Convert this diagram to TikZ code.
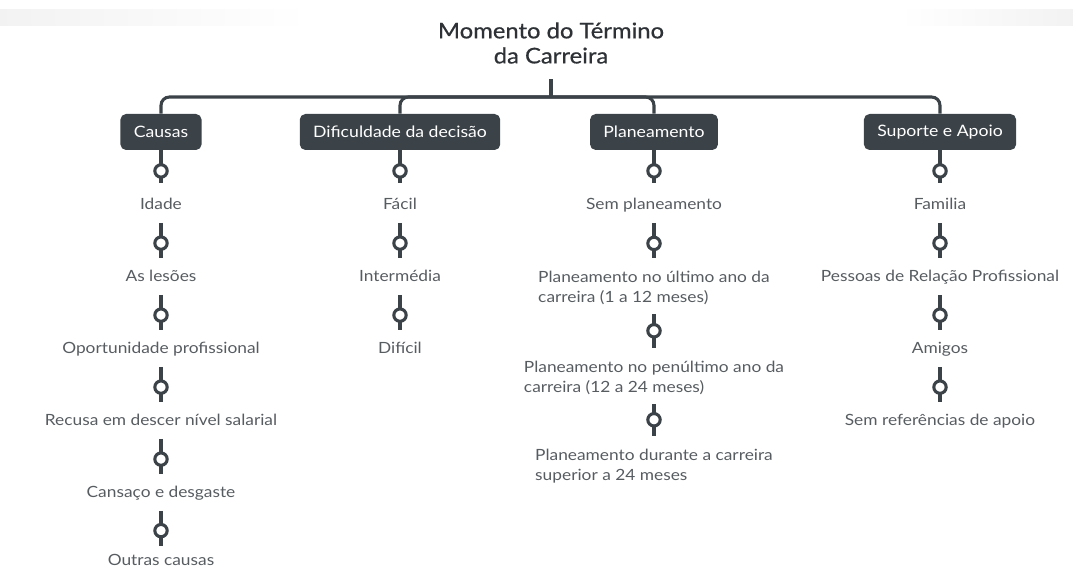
\documentclass[tikz,border=0pt]{standalone}
\usepackage{fontspec}
\setmainfont{Lato}[FakeStretch=1.12]
\newfontfamily\titlefont{Lato}[FakeStretch=1.1,FakeBold=0.6]
\definecolor{ink}{HTML}{3B4248}
\definecolor{txt}{HTML}{575C61}
\definecolor{titletxt}{HTML}{2E3236}

\begin{document}
\begin{tikzpicture}[x=0.025cm,y=-0.025cm,
  head/.style={fill=ink,text=white,rounded corners=4pt,minimum height=25.6pt,inner xsep=9.5pt,inner ysep=0pt,font=\fontsize{11.2}{13}\selectfont},
  item/.style={text=txt,inner sep=0pt,text height=8pt,text depth=2.5pt,font=\fontsize{11}{13}\selectfont},
  itemlong/.style={text=txt,inner sep=0pt,align=left,font=\fontsize{11}{14.2}\selectfont},
  bus/.style={draw=ink,line width=2.2pt,rounded corners=6pt},
  link/.style={draw=ink,line width=2.3pt,shorten <=6.5pt,shorten >=9pt},
  stem/.style={draw=ink,line width=2.3pt,shorten >=11pt},
  joint/.style={circle,draw=ink,fill=white,line width=2.2pt,inner sep=0pt,minimum size=8.8pt}]
  \useasboundingbox (0,0) rectangle (1073,571);
  \shade[left color=black!5,right color=white] (0,10) rectangle (310,26);
  \shade[left color=white,right color=black!5] (900,10) rectangle (1073,26);

  \node[align=center,inner sep=0pt,text=titletxt,font=\titlefont\fontsize{15.4}{17.8}\selectfont] (title) at (551,43) {Momento do Término\\da Carreira};
  \coordinate (hub) at (551,97);

  \node[head] (causas) at (161,132) {Causas};
  \node[head] (dific) at (400,132) {Dificuldade da decisão};
  \node[head] (plan) at (654,132) {Planeamento};
  \node[head] (suporte) at (940,132) {Suporte e Apoio};

  \node[item] (c1) at (161,206) {Idade};
  \node[item] (c2) at (161,278) {As lesões};
  \node[item] (c3) at (161,350) {Oportunidade profissional};
  \node[item] (c4) at (161,422) {Recusa em descer nível salarial};
  \node[item] (c5) at (161,494) {Cansaço e desgaste};
  \node[item] (c6) at (161,562) {Outras causas};

  \node[item] (d1) at (400,206) {Fácil};
  \node[item] (d2) at (400,278) {Intermédia};
  \node[item] (d3) at (400,350) {Difícil};

  \node[item] (p1) at (654,206) {Sem planeamento};
  \node[itemlong] (p2) at (654,288) {Planeamento no último ano da\\carreira (1 a 12 meses)};
  \node[itemlong] (p3) at (654,378) {Planeamento no penúltimo ano da\\carreira (12 a 24 meses)};
  \node[itemlong] (p4) at (654,466) {Planeamento durante a carreira\\superior a 24 meses};

  \node[item] (s1) at (940,206) {Familia};
  \node[item] (s2) at (940,278) {Pessoas de Relação Profissional};
  \node[item] (s3) at (940,350) {Amigos};
  \node[item] (s4) at (940,422) {Sem referências de apoio};

  % tree from the title down to the four heads
  \draw[bus,shorten <=11pt] (title) -- (hub);
  \draw[bus] (causas.north) |- (hub) -| (suporte.north);
  \draw[bus] (dific.north) |- (hub);
  \draw[bus] (plan.north) |- (hub);

  \draw[stem] (causas) -- node[joint,pos=0.43]{} (c1);
  \draw[link] (c1) -- node[joint,pos=0.52]{} (c2);
  \draw[link] (c2) -- node[joint,pos=0.52]{} (c3);
  \draw[link] (c3) -- node[joint,pos=0.52]{} (c4);
  \draw[link] (c4) -- node[joint,pos=0.52]{} (c5);
  \draw[link,shorten >=6pt] (c5) -- node[joint,pos=0.55]{} (c6);

  \draw[stem] (dific) -- node[joint,pos=0.43]{} (d1);
  \draw[link] (d1) -- node[joint,pos=0.52]{} (d2);
  \draw[link] (d2) -- node[joint,pos=0.52]{} (d3);

  \draw[stem] (plan) -- node[joint,pos=0.43]{} (p1);
  \draw[link] (p1) -- node[joint,pos=0.52]{} (p2);
  \draw[link] (p2) -- node[joint,pos=0.46]{} (p3);
  \draw[link] (p3) -- node[joint,pos=0.46]{} (p4);

  \draw[stem] (suporte) -- node[joint,pos=0.43]{} (s1);
  \draw[link] (s1) -- node[joint,pos=0.52]{} (s2);
  \draw[link] (s2) -- node[joint,pos=0.52]{} (s3);
  \draw[link] (s3) -- node[joint,pos=0.52]{} (s4);
\end{tikzpicture}
\end{document}
